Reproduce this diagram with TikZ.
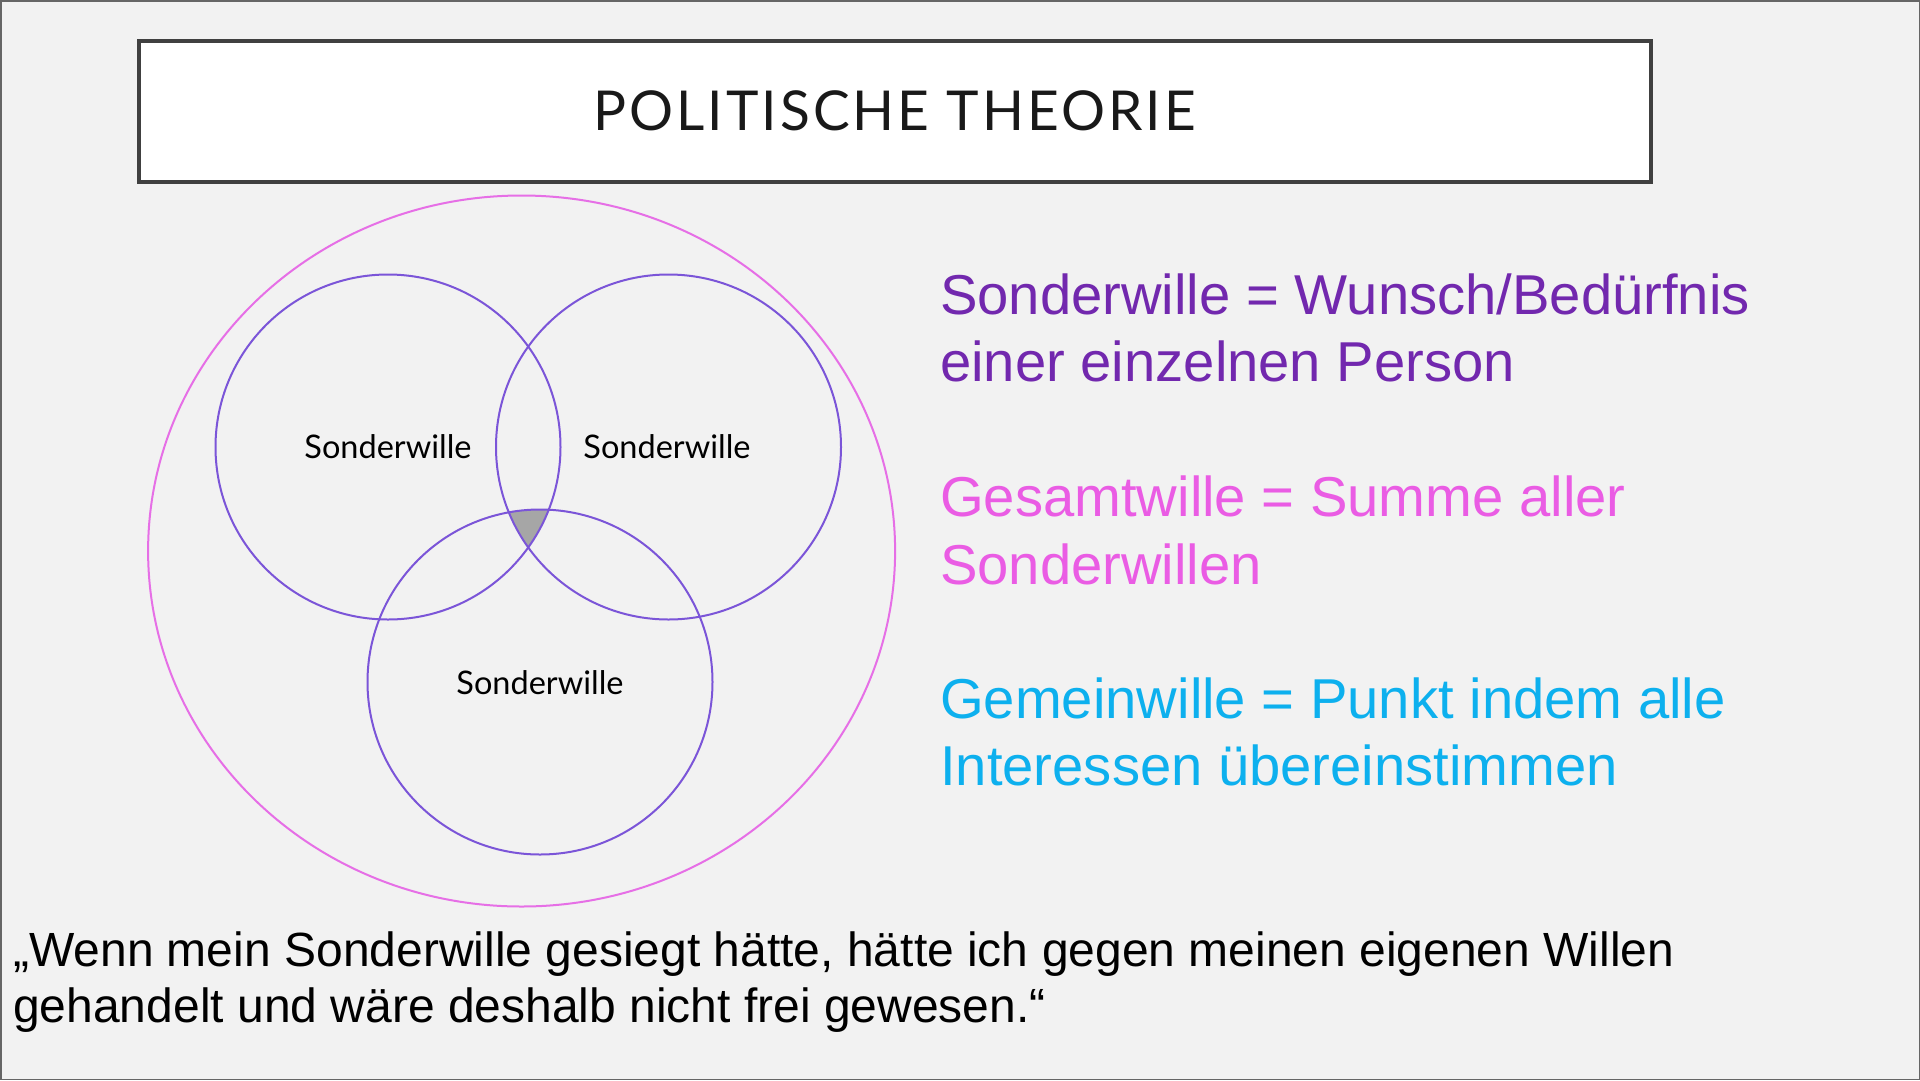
\documentclass[tikz,border=0pt]{standalone}
\usepackage{fontspec}
\setmainfont{Liberation Sans}
\newfontfamily\gillfont{Lato}
\newfontfamily\titlefont[LetterSpace=5.5]{Lato}
\definecolor{bgc}{HTML}{F2F2F2}
\definecolor{boxc}{HTML}{404040}
\definecolor{circc}{HTML}{7B55D8}
\definecolor{ellc}{HTML}{E66FE6}
\definecolor{purpc}{HTML}{7228AE}
\definecolor{pinkc}{HTML}{EA5CE4}
\definecolor{cyanc}{HTML}{0DB0EE}
\definecolor{tric}{HTML}{A6A6A6}
\tikzset{
  venn/.style={draw=circc, line width=2pt},
  outer/.style={draw=ellc, line width=2pt},
  lbl/.style={font=\gillfont\fontsize{32.5}{38}\selectfont, text=black, inner sep=0pt},
  deftext/.style={anchor=base west, inner sep=0pt, font=\fontsize{56.2}{68}\selectfont},
  quotetext/.style={anchor=base west, inner sep=0pt, font=\fontsize{48}{56}\selectfont, text=black}
}
\begin{document}
\begin{tikzpicture}[x=1pt,y=-1pt]
\useasboundingbox (0,0) rectangle (1920,1080);
\fill[bgc] (0,0) rectangle (1920,1080);
\draw[boxc!80, line width=1.5pt] (0.75,0.75) rectangle (1919.25,1079.25);
% title box
\node[draw=boxc, fill=white, line width=4pt, minimum width=1512pt, minimum height=141pt, inner sep=0pt] (title) at (894.5,111.5) {};
\node[font=\titlefont\fontsize{55}{60}\selectfont, text=black!90, inner sep=0pt] (titletext) at (894.5,111) {POLITISCHE THEORIE};
% outer ellipse
\draw[outer] (521.6,551) ellipse [x radius=373.5pt, y radius=355.5pt];
% gray triple intersection
\begin{scope}
\clip (388,447) circle (172.5pt);
\clip (668.5,447) circle (172.5pt);
\fill[tric] (540,682) circle (172.5pt);
\end{scope}
% circles
\draw[venn] (388,447) circle (172.5pt);
\draw[venn] (668.5,447) circle (172.5pt);
\draw[venn] (540,682) circle (172.5pt);
\node[lbl] (la) at (388,447) {Sonderwille};
\node[lbl] (lb) at (667,447) {Sonderwille};
\node[lbl] (lc) at (540,683) {Sonderwille};
% definitions
\node[deftext, text=purpc] (d1a) at (940,314) {Sonderwille = Wunsch/Bedürfnis};
\node[deftext, text=purpc] (d1b) at (940,381) {einer einzelnen Person};
\node[deftext, text=pinkc] (d2a) at (940,516) {Gesamtwille = Summe aller};
\node[deftext, text=pinkc] (d2b) at (940,584) {Sonderwillen};
\node[deftext, text=cyanc] (d3a) at (940,718) {Gemeinwille = Punkt indem alle};
\node[deftext, text=cyanc] (d3b) at (940,785) {Interessen übereinstimmen};
% quote
\node[quotetext] (q1) at (13,966) {„Wenn mein Sonderwille gesiegt hätte, hätte ich gegen meinen eigenen Willen};
\node[quotetext] (q2) at (13,1022) {gehandelt und wäre deshalb nicht frei gewesen.“};
\end{tikzpicture}
\end{document}
